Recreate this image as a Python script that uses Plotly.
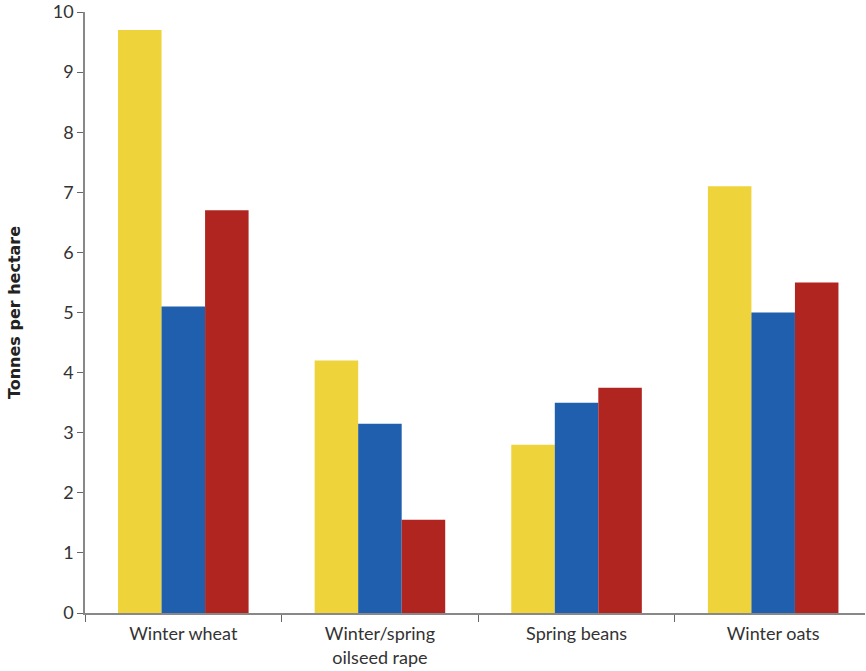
import plotly.graph_objects as go

categories = ["Winter wheat", "Winter/spring<br>oilseed rape", "Spring beans", "Winter oats"]
series_a = [9.7, 4.2, 2.8, 7.1]
series_b = [5.1, 3.15, 3.5, 5.0]
series_c = [6.7, 1.55, 3.75, 5.5]
y_ticks = [0, 1, 2, 3, 4, 5, 6, 7, 8, 9, 10]

colors = ["#EED33A", "#1F5FAD", "#B12520"]

fig = go.Figure()
for vals, col in zip([series_a, series_b, series_c], colors):
    fig.add_trace(go.Bar(x=categories, y=vals, marker=dict(color=col, line=dict(width=0)),
                         showlegend=False))

font = "Lato, 'DejaVu Sans', sans-serif"
fig.update_layout(
    width=866, height=671,
    margin=dict(l=85, r=1, t=12, b=58),
    barmode="group", bargap=0.336, bargroupgap=0,
    plot_bgcolor="white", paper_bgcolor="white",
    font=dict(family=font, size=18, color="#333333"),
    xaxis=dict(range=[-0.5, 3.467], showline=True, linecolor="#888888", linewidth=1.5,
               ticks="outside", tickson="boundaries", ticklen=7, tickcolor="#666666",
               ticklabelstandoff=4,
               showgrid=False, automargin=False, tickfont=dict(size=18, color="#333333")),
    yaxis=dict(range=[0, 10], tickvals=y_ticks, showline=True, linecolor="#888888", linewidth=1.5,
               ticks="outside", ticklen=6, tickcolor="#666666", showgrid=False, zeroline=False,
               automargin=False, tickfont=dict(size=18, color="#333333"),
               title=dict(text="<b>Tonnes per hectare</b>",
                          font=dict(family="'DejaVu Sans', sans-serif", size=16, color="#222222"),
                          standoff=28)),
)
fig.write_html("out.html", config={"displayModeBar": False},
               post_script="document.body.style.margin='0';")
